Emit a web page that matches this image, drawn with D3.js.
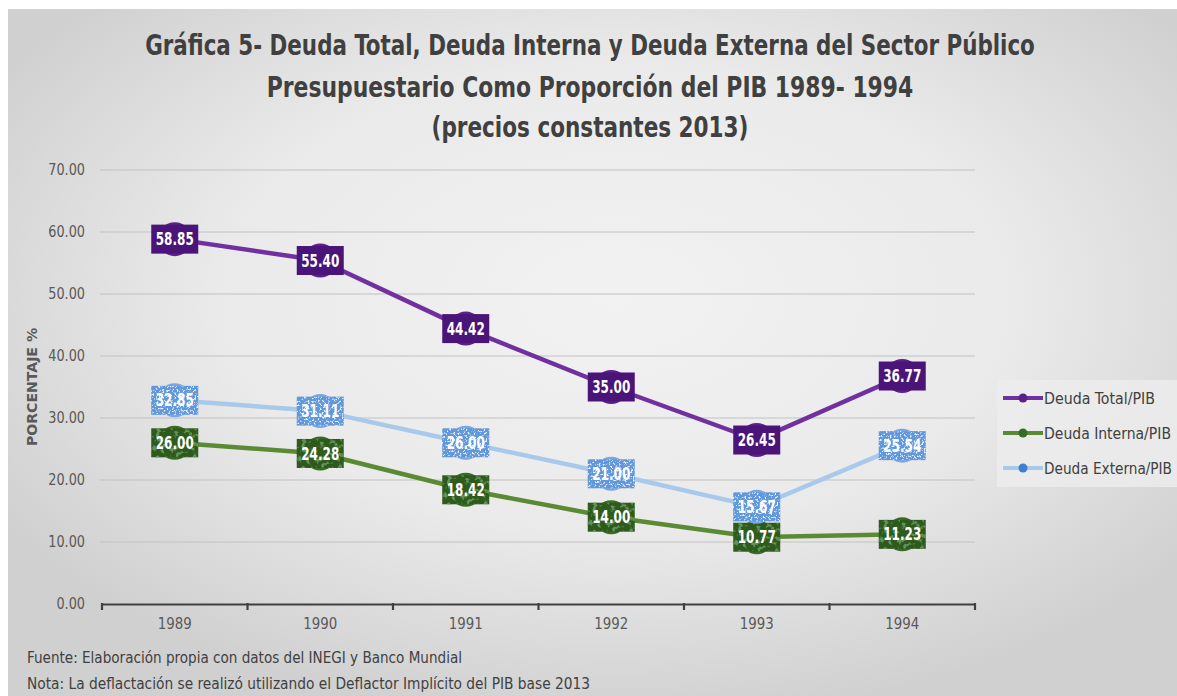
<!DOCTYPE html>
<html>
<head>
<meta charset="utf-8">
<script src="https://cdn.jsdelivr.net/npm/d3@7"></script>
<style>
  html, body { margin: 0; padding: 0; background: #ffffff; }
  svg { display: block; }
  .cond { font-family: "DejaVu Sans Condensed", "DejaVu Sans", sans-serif; }
</style>
</head>
<body>
<svg id="chart" width="1177" height="696"></svg>
<script>
// Años y series (porcentaje del PIB)
const years = ["1989", "1990", "1991", "1992", "1993", "1994"];
const deudaTotal   = [58.85, 55.40, 44.42, 35.00, 26.45, 36.77];
const deudaInterna = [26.00, 24.28, 18.42, 14.00, 10.77, 11.23];
const deudaExterna = [32.85, 31.11, 26.00, 21.00, 15.67, 25.54];
const yTicks = [0, 10, 20, 30, 40, 50, 60, 70];
const seriesNames = ["Deuda Total/PIB", "Deuda Interna/PIB", "Deuda Externa/PIB"];
const titleLines = [
  "Gráfica 5- Deuda Total, Deuda Interna y Deuda Externa del Sector Público",
  "Presupuestario Como Proporción del PIB 1989- 1994",
  "(precios constantes 2013)"
];
const notes = [
  "Fuente: Elaboración propia con datos del INEGI y Banco Mundial",
  "Nota: La deflactación se realizó utilizando el Deflactor Implícito del PIB base 2013"
];

const svg = d3.select("#chart");
const W = 1177, H = 696;
const defs = svg.append("defs");

// Ajusta el ancho de un texto (tipografía estrecha)
function fit(sel, width) {
  sel.attr("textLength", width).attr("lengthAdjust", "spacingAndGlyphs");
}
function squeeze(sel, k) {
  sel.each(function () {
    const len = this.getComputedTextLength();
    d3.select(this).attr("textLength", len * k).attr("lengthAdjust", "spacingAndGlyphs");
  });
}

// Fondo con degradado radial gris
const bg = defs.append("radialGradient").attr("id", "bgGrad")
  .attr("cx", "52%").attr("cy", "42%").attr("r", "62%");
bg.append("stop").attr("offset", "0%").attr("stop-color", "#f2f2f2");
bg.append("stop").attr("offset", "55%").attr("stop-color", "#eaeaea");
bg.append("stop").attr("offset", "100%").attr("stop-color", "#d0d0d0");
svg.append("rect").attr("x", 8).attr("y", 9).attr("width", W - 8).attr("height", H - 9)
  .attr("fill", "url(#bgGrad)");

// Textura moteada para las etiquetas
function speckle(id, freq, matrix, seed) {
  const f = defs.append("filter").attr("id", id)
    .attr("x", 0).attr("y", 0).attr("width", 1).attr("height", 1);
  f.append("feTurbulence").attr("type", "fractalNoise").attr("baseFrequency", freq)
    .attr("numOctaves", 2).attr("seed", seed).attr("result", "noise");
  f.append("feColorMatrix").attr("in", "noise").attr("type", "matrix")
    .attr("values", matrix).attr("result", "spots");
  f.append("feComposite").attr("in", "spots").attr("in2", "SourceGraphic")
    .attr("operator", "in").attr("result", "spotsClip");
  const m = f.append("feMerge");
  m.append("feMergeNode").attr("in", "SourceGraphic");
  m.append("feMergeNode").attr("in", "spotsClip");
}
speckle("speckBlue", 0.5, "0 0 0 0 0.85  0 0 0 0 0.92  0 0 0 0 1  0 0 0 6 -3.3", 5);
speckle("speckGreen", 0.22, "0 0 0 0 0.12  0 0 0 0 0.30  0 0 0 0 0.10  0 0 0 6 -3.2", 3);

// Escalas
const x = d3.scaleBand().domain(years).range([102, 975]);
const y = d3.scaleLinear().domain([0, 70]).range([604, 170]);
const cx = d => x(d) + x.bandwidth() / 2;

// Título: cada línea se estrecha con una escala horizontal
const titleY = [55, 97, 137];
const titleW = [890, 647, 317];
titleLines.forEach((t, i) => {
  const g = svg.append("g");
  const txt = g.append("text").attr("class", "cond")
    .attr("font-weight", "bold").attr("fill", "#404040").attr("text-anchor", "middle")
    .attr("font-size", 29).text(t);
  const k = titleW[i] / txt.node().getComputedTextLength();
  g.attr("transform", `translate(590,${titleY[i]}) scale(${k},1)`);
});

// Cuadrícula horizontal
svg.append("g")
  .selectAll("line").data(yTicks.filter(v => v > 0)).join("line")
  .attr("x1", 100).attr("x2", 975)
  .attr("y1", d => y(d)).attr("y2", d => y(d))
  .attr("stroke", "#c2c2c2").attr("stroke-width", 1.1);

// Eje Y (solo etiquetas)
const yAxis = svg.append("g")
  .attr("transform", "translate(100,0)")
  .call(d3.axisLeft(y).tickValues(yTicks).tickFormat(d3.format(".2f")).tickSize(0).tickPadding(15));
yAxis.select(".domain").remove();
yAxis.selectAll("text").attr("font-size", 15).attr("fill", "#595959")
  .attr("font-family", "\"DejaVu Sans Condensed\", \"DejaVu Sans\", sans-serif")
  .call(squeeze, 0.95);

svg.append("text").attr("class", "cond")
  .attr("transform", "translate(37,387) rotate(-90)")
  .attr("text-anchor", "middle").attr("font-size", 14).attr("font-weight", "bold")
  .attr("fill", "#595959").text("PORCENTAJE %").call(fit, 118);

// Eje X
const xAxis = svg.append("g")
  .attr("transform", "translate(0,604)")
  .call(d3.axisBottom(x).tickSize(0).tickPadding(14));
xAxis.select(".domain").attr("stroke", "#404040").attr("stroke-width", 2.2);
xAxis.selectAll("text").attr("font-size", 15.5).attr("fill", "#595959")
  .attr("font-family", "\"DejaVu Sans Condensed\", \"DejaVu Sans\", sans-serif")
  .call(fit, 34);
// Marcas entre categorías
const bounds = years.map(d => x(d)).concat([x(years[years.length - 1]) + x.bandwidth()]);
svg.append("g").selectAll("line").data(bounds).join("line")
  .attr("x1", d => d).attr("x2", d => d).attr("y1", 603).attr("y2", 610)
  .attr("stroke", "#404040").attr("stroke-width", 2.2);

// Series
const series = [
  { name: seriesNames[0], values: deudaTotal, line: "#7030a0", box: "#4a1478", marker: "#5b2189", filter: null, legW: 111 },
  { name: seriesNames[1], values: deudaInterna, line: "#5a8a34", box: "#2d5a1e", marker: "#386b26", filter: "url(#speckGreen)", legW: 127 },
  { name: seriesNames[2], values: deudaExterna, line: "#a9c9ea", box: "#6098dc", marker: "#7aa7e0", filter: "url(#speckBlue)", legW: 128 }
];

const lineGen = (vals) => d3.line().x((v, i) => cx(years[i])).y(v => y(v))(vals);

// Líneas primero, luego marcadores y etiquetas
series.forEach(s => {
  svg.append("path").attr("d", lineGen(s.values))
    .attr("fill", "none").attr("stroke", s.line).attr("stroke-width", 4.5)
    .attr("stroke-linejoin", "round");
});

const boxW = 47, boxH = 29;
series.forEach(s => {
  const g = svg.append("g");
  const pts = g.selectAll("g").data(s.values).join("g")
    .attr("transform", (v, i) => `translate(${cx(years[i])},${y(v)})`);
  pts.append("circle").attr("r", 17).attr("fill", s.marker);
  pts.append("rect").attr("x", -boxW / 2).attr("y", -boxH / 2)
    .attr("width", boxW).attr("height", boxH).attr("fill", s.box)
    .attr("filter", s.filter);
  pts.append("text").attr("class", "cond")
    .attr("text-anchor", "middle").attr("dy", "0.36em")
    .attr("font-size", 17).attr("font-weight", "bold").attr("fill", "#ffffff")
    .text(v => v.toFixed(2)).call(fit, 38);
});

// Leyenda
const leg = svg.append("g").attr("transform", "translate(997,380)");
leg.append("rect").attr("width", 180).attr("height", 107).attr("fill", "#ececec").attr("opacity", 0.85);
series.forEach((s, i) => {
  const ly = 18 + i * 35;
  leg.append("line").attr("x1", 6).attr("x2", 46).attr("y1", ly).attr("y2", ly)
    .attr("stroke", s.line).attr("stroke-width", 4);
  leg.append("circle").attr("cx", 26).attr("cy", ly).attr("r", 4.5)
    .attr("fill", i === 2 ? "#3f7fcf" : s.marker);
  leg.append("text").attr("class", "cond").attr("x", 47).attr("y", ly).attr("dy", "0.36em")
    .attr("font-size", 15.5).attr("fill", "#404040").text(s.name).call(fit, s.legW);
});

// Notas al pie
const noteW = [435, 563];
svg.append("g").attr("class", "cond")
  .selectAll("text").data(notes).join("text")
  .attr("x", 27).attr("y", (d, i) => 663 + i * 26)
  .attr("font-size", 16).attr("fill", "#404040").text(d => d)
  .each(function (d, i) { d3.select(this).call(fit, noteW[i]); });
</script>
</body>
</html>
